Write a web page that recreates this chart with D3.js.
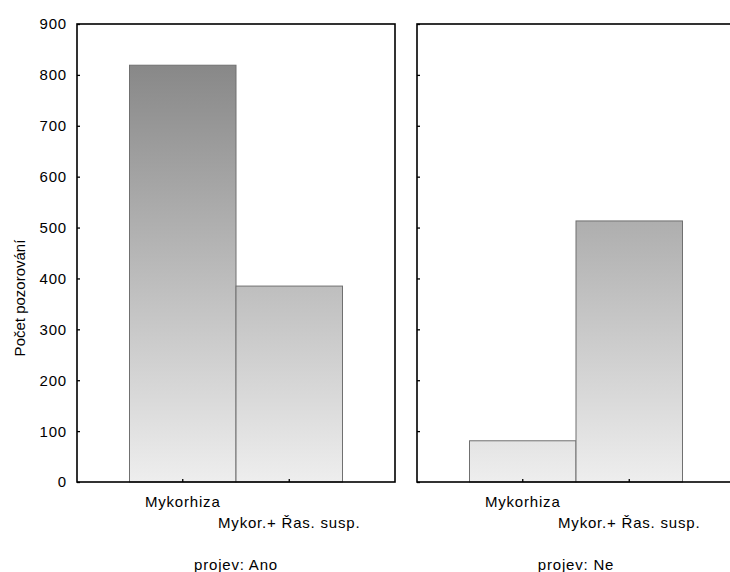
<!DOCTYPE html>
<html>
<head>
<meta charset="utf-8">
<script src="https://cdn.jsdelivr.net/npm/d3@7"></script>
<style>
  html, body { margin: 0; padding: 0; background: #fff; }
  svg text { font-family: "Liberation Sans", Arial, sans-serif; fill: #000; }
</style>
</head>
<body>
<svg id="chart" width="730" height="572"></svg>
<script>
const categories = ["Mykorhiza", "Mykor.+ Řas. susp."];
const panels = ["projev: Ano", "projev: Ne"];
const valuesAno = [819, 385];
const valuesNe = [81, 513];
const yTicks = [0, 100, 200, 300, 400, 500, 600, 700, 800, 900];
const yTitle = "Počet pozorování";

(function () {
const svg = d3.select("#chart");
const plotTop = 24, plotBottom = 482;
const panelWidth = 318;
const panelLefts = [77, 417];
const panelValues = [valuesAno, valuesNe];

const y = d3.scaleLinear().domain([0, 900]).range([plotBottom, plotTop]);

// gradient in user space (darker for higher values)
const defs = svg.append("defs");
const grad = defs.append("linearGradient")
  .attr("id", "barGrad")
  .attr("gradientUnits", "userSpaceOnUse")
  .attr("x1", 0).attr("x2", 0)
  .attr("y1", y(0)).attr("y2", y(819));
grad.append("stop").attr("offset", "0%").attr("stop-color", "#eeeeee");
grad.append("stop").attr("offset", "100%").attr("stop-color", "#888888");

panelLefts.forEach((x0, pi) => {
  const x = d3.scaleBand().domain(categories)
    .range([x0, x0 + panelWidth]).paddingInner(0).paddingOuter(0.493);
  const g = svg.append("g");
  const vals = panelValues[pi];

  g.selectAll("rect.bar").data(categories).enter().append("rect")
    .attr("class", "bar")
    .attr("x", d => x(d))
    .attr("width", x.bandwidth())
    .attr("y", (d, i) => y(vals[i]))
    .attr("height", (d, i) => y(0) - y(vals[i]))
    .attr("fill", "url(#barGrad)")
    .attr("stroke", "#707070")
    .attr("stroke-width", 1);

  g.append("rect")
    .attr("x", x0).attr("y", plotTop)
    .attr("width", panelWidth).attr("height", plotBottom - plotTop)
    .attr("fill", "none").attr("stroke", "#000").attr("stroke-width", 1.6);

  const yAxis = d3.axisRight(y).tickValues(yTicks).tickSize(3).tickFormat("");
  const ya = g.append("g").attr("transform", `translate(${x0},0)`).call(yAxis);
  ya.select(".domain").remove();
  ya.selectAll(".tick line").attr("stroke", "#000").attr("stroke-width", 1.3);

  if (pi === 0) {
    g.selectAll("text.ylab").data(yTicks).enter().append("text")
      .attr("class", "ylab")
      .attr("x", x0 - 10)
      .attr("y", d => y(d))
      .attr("dy", "0.36em")
      .attr("text-anchor", "end")
      .attr("font-size", 15)
      .attr("letter-spacing", 0.8)
      .text(d => d);
  }

  const xAxis = d3.axisTop(x).tickSize(3).tickFormat("");
  const xa = g.append("g").attr("transform", `translate(0,${plotBottom})`).call(xAxis);
  xa.select(".domain").remove();
  xa.selectAll(".tick line").attr("stroke", "#000").attr("stroke-width", 1.3);

  g.selectAll("text.xlab").data(categories).enter().append("text")
    .attr("class", "xlab")
    .attr("x", d => x(d) + x.bandwidth() / 2)
    .attr("y", (d, i) => i === 0 ? 507 : 528)
    .attr("text-anchor", "middle")
    .attr("font-size", 15)
    .attr("letter-spacing", 0.8)
    .text(d => d);

  g.append("text")
    .attr("x", x0 + panelWidth / 2)
    .attr("y", 570)
    .attr("text-anchor", "middle")
    .attr("font-size", 15)
    .attr("letter-spacing", 0.8)
    .text(panels[pi]);
});

svg.append("text")
  .attr("transform", "translate(25,298) rotate(-90)")
  .attr("text-anchor", "middle")
  .attr("font-size", 15)
  .text(yTitle);
})();
</script>
</body>
</html>
